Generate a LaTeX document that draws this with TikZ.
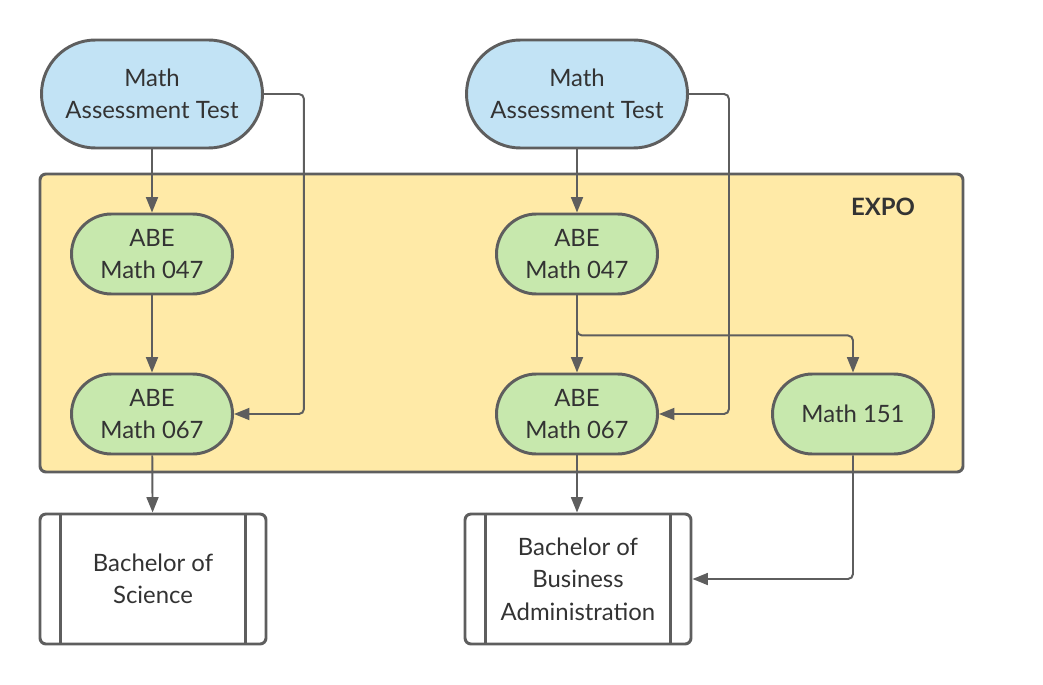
\documentclass[tikz,border=0pt]{standalone}
\usepackage{fontspec}
\setmainfont{Lato}
\usetikzlibrary{arrows.meta}
\definecolor{linegray}{HTML}{5E5E5E}
\definecolor{textgray}{HTML}{333333}
\definecolor{testblue}{HTML}{C2E3F5}
\definecolor{abegreen}{HTML}{C7E8AD}
\definecolor{expoyellow}{HTML}{FFEAA7}
\begin{document}
\begin{tikzpicture}[line width=1.4pt, color=linegray,
		font=\fontsize{17}{23}\selectfont,
		test/.style={rectangle,draw,fill=testblue,text=textgray,line width=2.1pt,rounded corners=1.35cm,minimum width=5.525cm,minimum height=2.7cm,align=center},
		course/.style={rectangle,draw,fill=abegreen,text=textgray,line width=2.1pt,rounded corners=1cm,minimum width=4.025cm,minimum height=2cm,align=center},
		degree/.style={rectangle,draw,fill=white,text=textgray,line width=2.1pt,rounded corners=0.15cm,minimum width=5.65cm,minimum height=3.25cm,align=center},
		link/.style={-{Triangle[width=8.5pt,length=11pt]},rounded corners=0.125cm}]
		\useasboundingbox (0, 0) rectangle (26.075, -17.125);

		% EXPO frame
		\draw [fill=expoyellow,line width=2.1pt,rounded corners=0.15cm] (1.0, -4.35) rectangle (24.075, -11.8);
		\node[text=textgray,font=\fontsize{17}{23}\selectfont\bfseries] (expo) at (22.075, -5.175) {EXPO};

		% left column
		\node[test] (testL) at (3.8, -2.35) {Math\\Assessment Test};
		\node[course] (abeL1) at (3.8, -6.35) {ABE\\Math 047};
		\node[course] (abeL2) at (3.8, -10.35) {ABE\\Math 067};
		\node[degree] (bos) at (3.825, -14.475) {Bachelor of\\Science};

		% right column
		\node[test] (testR) at (14.425, -2.35) {Math\\Assessment Test};
		\node[course] (abeR1) at (14.425, -6.35) {ABE\\Math 047};
		\node[course] (abeR2) at (14.425, -10.35) {ABE\\Math 067};
		\node[course] (m151) at (21.325, -10.35) {Math 151};
		\node[degree] (bba) at (14.45, -14.475) {Bachelor of\\Business\\Administration};

		% side bars of the degree boxes
		\draw [line width=2.1pt] ([xshift=0.55cm]bos.north west) -- ([xshift=0.55cm]bos.south west);
		\draw [line width=2.1pt] ([xshift=-0.55cm]bos.north east) -- ([xshift=-0.55cm]bos.south east);
		\draw [line width=2.1pt] ([xshift=0.55cm]bba.north west) -- ([xshift=0.55cm]bba.south west);
		\draw [line width=2.1pt] ([xshift=-0.55cm]bba.north east) -- ([xshift=-0.55cm]bba.south east);

		\draw [link] (testL) -- (abeL1);
		\draw [link] (testL.east) -- ++(1.0, 0) |- (abeL2.east);
		\draw [link] (abeL1) -- (abeL2);
		\draw [link] (abeL2) -- (bos);

		\draw [link] (testR) -- (abeR1);
		\draw [link] (testR.east) -- ++(1.0, 0) |- (abeR2.east);
		\draw [link] (abeR1) -- (abeR2);
		\draw [link] (abeR1.south) -- ++(0, -1.0) -| (m151.north);
		\draw [link] (abeR2) -- (bba.north -| abeR2);
		\draw [link] (m151.south) |- (bba.east);
\end{tikzpicture}
\end{document}
